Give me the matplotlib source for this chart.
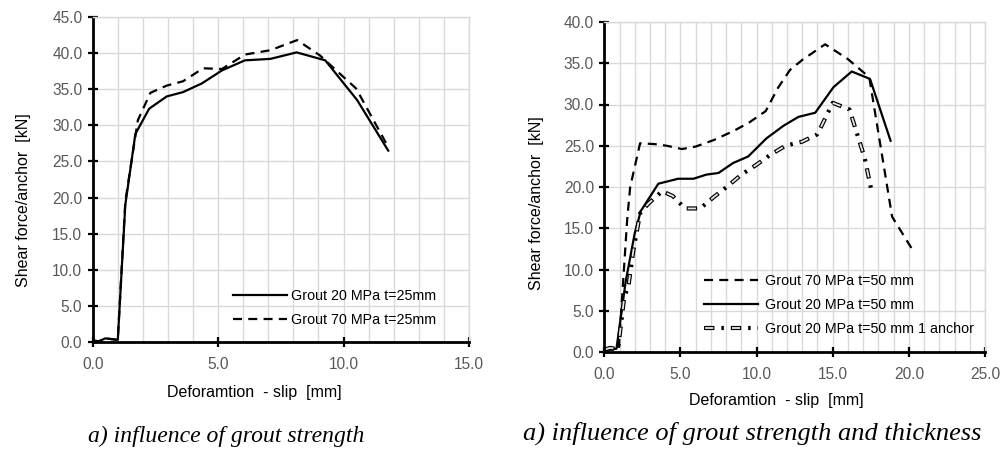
import matplotlib
matplotlib.use("Agg")
import matplotlib.pyplot as plt
from matplotlib import font_manager
from matplotlib.ticker import MultipleLocator, FormatStrFormatter

plt.rcParams['font.family'] = ['Liberation Sans', 'DejaVu Sans']
plt.rcParams['lines.scale_dashes'] = False

names = {f.name for f in font_manager.fontManager.ttflist}
NARROW = 'Liberation Sans Narrow' if 'Liberation Sans Narrow' in names else 'Liberation Sans'

# left chart: influence of grout strength (t=25mm)
g20_t25_x = [0, 0.25, 0.5, 0.75, 1.0, 1.3, 1.7, 2.25, 2.95, 3.6, 4.35, 5.15, 6.07, 7.08, 8.13, 9.27, 10.54, 11.78]
g20_t25_y = [0.2, 0.1, 0.5, 0.4, 0.3, 19.0, 28.8, 32.3, 34.0, 34.6, 35.8, 37.6, 39.0, 39.2, 40.1, 39.0, 33.5, 26.5]
g70_t25_x = [0, 0.25, 0.5, 0.75, 1.0, 1.3, 1.8, 2.3, 2.95, 3.6, 4.4, 5.15, 6.07, 7.08, 8.15, 9.05, 10.5, 11.7]
g70_t25_y = [0.2, 0.1, 0.5, 0.4, 0.3, 19.5, 30.7, 34.5, 35.5, 36.1, 37.9, 37.8, 39.8, 40.4, 41.8, 39.7, 35.1, 27.5]

# right chart: influence of grout strength and thickness (t=50 mm)
g70_t50_x = [0, 0.5, 0.95, 1.5, 1.7, 2.35, 3.3, 4.1, 5.1, 6.0, 7.2, 8.5, 9.5, 10.6, 11.4, 12.2, 13.0, 14.5, 16.0, 17.4, 18.9, 20.3]
g70_t50_y = [0.3, 0.3, 0.4, 16.0, 20.0, 25.3, 25.2, 25.0, 24.6, 24.9, 25.7, 26.8, 27.8, 29.2, 32.0, 34.2, 35.4, 37.3, 35.5, 33.3, 16.4, 12.2]
g20_t50_x = [0, 0.4, 0.8, 1.15, 1.4, 2.0, 2.4, 3.55, 4.85, 5.85, 6.7, 7.5, 8.45, 9.45, 10.65, 11.75, 12.75, 13.85, 15.05, 16.25, 17.45, 18.8]
g20_t50_y = [0.35, 0.3, 0.4, 5.1, 8.5, 14.4, 17.1, 20.4, 21.0, 21.0, 21.5, 21.7, 22.9, 23.7, 25.9, 27.4, 28.5, 29.0, 32.1, 34.0, 33.1, 25.6]
g20_t50_1a_x = [0, 0.4, 0.9, 1.3, 1.6, 1.9, 2.35, 2.9, 3.8, 4.5, 5.3, 6.3, 7.2, 8.1, 9.0, 10.0, 10.9, 11.9, 13.0, 14.0, 15.0, 16.1, 17.1, 17.55]
g20_t50_1a_y = [0.3, 0.5, 0.3, 6.5, 8.2, 12.2, 16.8, 18.0, 19.5, 18.9, 17.4, 17.4, 18.8, 20.1, 21.5, 22.7, 23.9, 25.0, 25.5, 26.4, 30.2, 29.4, 23.5, 19.5]

labels_left = ['Grout 20 MPa t=25mm', 'Grout 70 MPa t=25mm']
labels_right = ['Grout 70 MPa t=50 mm', 'Grout 20 MPa t=50 mm', 'Grout 20 MPa t=50 mm 1 anchor']
captions = ['a) influence of grout strength', 'a) influence of grout strength and thickness']

ylabel = 'Shear force/anchor  [kN]'
xlabel = 'Deforamtion  - slip  [mm]'

DASH = (0, (6.5, 4.5))
GRID = '#d9d9d9'
TICKC = '#595959'
LEG_FS = 12.5 if NARROW != 'Liberation Sans' else 10.3


def style_axes(ax, xmax, ymax, xlab_pos, ylab_pos):
    ax.set_xlim(0, xmax)
    ax.set_ylim(0, ymax)
    ax.xaxis.set_major_locator(MultipleLocator(5))
    ax.xaxis.set_minor_locator(MultipleLocator(1))
    ax.yaxis.set_major_locator(MultipleLocator(5))
    ax.xaxis.set_major_formatter(FormatStrFormatter('%.1f'))
    ax.yaxis.set_major_formatter(FormatStrFormatter('%.1f'))
    ax.grid(True, which='both', axis='x', color=GRID, lw=1)
    ax.grid(True, which='major', axis='y', color=GRID, lw=1)
    ax.set_axisbelow(True)
    for s in ['top', 'right']:
        ax.spines[s].set_color(GRID)
        ax.spines[s].set_linewidth(1)
    for s in ['left', 'bottom']:
        ax.spines[s].set_color('black')
        ax.spines[s].set_linewidth(2)
    ax.tick_params(which='major', direction='inout', length=7, width=1.6,
                   labelsize=11.2, labelcolor=TICKC, color='black')
    ax.tick_params(axis='x', which='major', pad=7)
    ax.tick_params(axis='y', which='major', pad=4)
    ax.tick_params(which='minor', length=0)
    ax.set_xlabel(xlabel, fontsize=11.5)
    ax.set_ylabel(ylabel, fontsize=11.5)
    ax.xaxis.set_label_coords(*xlab_pos)
    ax.yaxis.set_label_coords(*ylab_pos)


fig = plt.figure(figsize=(10.05, 4.53), dpi=100)
ax1 = fig.add_axes([92.7 / 1005, 1 - 342 / 453, 376.3 / 1005, 325 / 453])
ax2 = fig.add_axes([604.3 / 1005, 1 - 352 / 453, 380.7 / 1005, 330 / 453])

# left
l1, = ax1.plot(g20_t25_x, g20_t25_y, color='black', lw=1.6, label=labels_left[0])
l2, = ax1.plot(g70_t25_x, g70_t25_y, color='black', lw=1.6, linestyle=DASH, label=labels_left[1])
style_axes(ax1, 15, 45, (0.43, -0.133), (-0.163, 0.437))
ax1.legend(handles=[l1, l2], loc='upper left', bbox_to_anchor=(0.373, 0.163), frameon=False,
           prop={'family': NARROW, 'size': LEG_FS}, handlelength=54 / (LEG_FS * 1.389),
           handletextpad=0.3, borderpad=0, borderaxespad=0, labelspacing=0.72)

# right
r1, = ax2.plot(g70_t50_x, g70_t50_y, color='black', lw=1.6, linestyle=DASH, label=labels_right[0])
r2, = ax2.plot(g20_t50_x, g20_t50_y, color='black', lw=1.6, label=labels_right[1])
# hollow long-dash / dot line
r3a, = ax2.plot(g20_t50_1a_x, g20_t50_1a_y, color='black', lw=3.0,
                linestyle=(0, (7.5, 5.0, 1.8, 5.0)))
r3b, = ax2.plot(g20_t50_1a_x, g20_t50_1a_y, color='#e6e6e6', lw=1.3,
                linestyle=(19.3 - 0.8, (5.9, 13.4)))
style_axes(ax2, 25, 40, (0.451, -0.124), (-0.159, 0.452))
ax2.legend(handles=[r1, r2, (r3a, r3b)], labels=labels_right, loc='upper left',
           bbox_to_anchor=(0.262, 0.237), frameon=False,
           prop={'family': NARROW, 'size': LEG_FS}, handlelength=54 / (LEG_FS * 1.389),
           handletextpad=0.5, borderpad=0, borderaxespad=0, labelspacing=0.72)

# captions under each chart
fig.text(226 / 1005, 1 - 436 / 453, captions[0], ha='center', va='center',
         family='Liberation Serif', style='italic', fontsize=17)
fig.text(752 / 1005, 1 - 433 / 453, captions[1], ha='center', va='center',
         family='Liberation Serif', style='italic', fontsize=19)

fig.savefig('out.png', dpi=100)
